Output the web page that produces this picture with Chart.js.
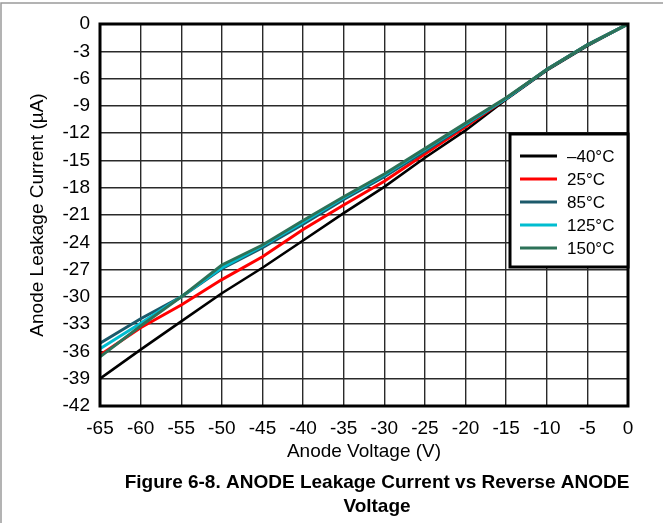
<!DOCTYPE html>
<html>
<head>
<meta charset="utf-8">
<script src="https://cdn.jsdelivr.net/npm/chart.js@4.4.1/dist/chart.umd.min.js"></script>
<style>
  html, body { margin: 0; padding: 0; background: #fff; }
  #wrap { position: relative; width: 663px; height: 523px; }
</style>
</head>
<body>
<div id="wrap"><canvas id="leak-chart" width="663" height="523"></canvas></div>
<script>
/* anode leakage vs reverse anode voltage */
const voltage = [-65, -60, -55, -50, -45, -40, -35, -30, -25, -20, -15, -10, -5, 0];
const xTicks = [-65, -60, -55, -50, -45, -40, -35, -30, -25, -20, -15, -10, -5, 0];
const yTicks = [0, -3, -6, -9, -12, -15, -18, -21, -24, -27, -30, -33, -36, -39, -42];

const tempLabels = ['–40°C', '25°C', '85°C', '125°C', '150°C'];
const leakM40 = [-39.0, -35.8, -32.7, -29.6, -26.8, -23.8, -20.8, -17.9, -14.7, -11.7, -8.3, -5.1, -2.4, 0];
const leak25  = [-36.4, -33.4, -30.9, -28.1, -25.6, -22.6, -19.9, -17.3, -14.3, -11.3, -8.2, -5.0, -2.3, 0];
const leak85  = [-35.1, -32.4, -30.0, -26.9, -24.6, -22.0, -19.3, -16.8, -14.0, -11.1, -8.2, -5.0, -2.3, 0];
const leak125 = [-35.7, -32.9, -30.0, -26.8, -24.4, -21.8, -19.1, -16.6, -13.8, -11.0, -8.2, -5.0, -2.3, 0];
const leak150 = [-36.6, -33.2, -30.0, -26.5, -24.3, -21.6, -19.0, -16.5, -13.7, -10.9, -8.1, -5.0, -2.3, 0];

const lineColors = ['#000000', '#ff0000', '#1c5a6b', '#00bdd0', '#2d7258'];
const series = [leakM40, leak25, leak85, leak125, leak150];

const FONT = '"Liberation Sans", Arial, sans-serif';

const datasets = series.map((vals, i) => ({
  label: tempLabels[i],
  data: voltage.map((v, k) => ({ x: v, y: vals[k] })),
  borderColor: lineColors[i],
  backgroundColor: lineColors[i],
  borderWidth: i === 0 ? 2.6 : 3,
  pointRadius: 0,
  tension: 0,
  order: 5 - i
}));

// frame, plot border, legend box and figure caption
const decor = {
  id: 'decor',
  beforeDraw(chart) {
    const ctx = chart.ctx;
    ctx.save();
    ctx.strokeStyle = '#9a9a9a';
    ctx.lineWidth = 1.5;
    ctx.beginPath();
    ctx.moveTo(1, 540);
    ctx.lineTo(1, 3);
    ctx.lineTo(700, 3);
    ctx.stroke();
    ctx.restore();
  },
  afterDraw(chart) {
    const ctx = chart.ctx;
    const a = chart.chartArea;
    ctx.save();
    ctx.strokeStyle = '#000';
    ctx.lineWidth = 3;
    ctx.strokeRect(a.left, a.top, a.right - a.left, a.bottom - a.top);

    // legend
    const bx = a.right - 118, by = a.top + 110, bw = 118, bh = 133;
    ctx.fillStyle = '#fff';
    ctx.fillRect(bx, by, bw, bh);
    ctx.strokeRect(bx, by, bw, bh);
    ctx.font = '17px ' + FONT;
    ctx.textBaseline = 'middle';
    ctx.textAlign = 'left';
    tempLabels.forEach((t, i) => {
      const y = by + 22 + i * 23;
      ctx.strokeStyle = lineColors[i];
      ctx.lineWidth = 3;
      ctx.beginPath();
      ctx.moveTo(bx + 10, y);
      ctx.lineTo(bx + 47, y);
      ctx.stroke();
      ctx.fillStyle = '#000';
      ctx.fillText(t, bx + 57, y + 1);
    });

    // caption
    ctx.font = 'bold 19px ' + FONT;
    ctx.textAlign = 'center';
    ctx.fillStyle = '#000';
    ctx.fillText('Figure 6-8. ANODE Leakage Current vs Reverse ANODE', 377, 483);
    ctx.fillText('Voltage', 377, 507);
    ctx.restore();
  }
};

const config = {
  type: 'line',
  data: { datasets: datasets },
  options: {
    responsive: false,
    animation: false,
    layout: { padding: { left: 0, top: 24, right: 35, bottom: 60 } },
    plugins: {
      legend: { display: false },
      tooltip: { enabled: false }
    },
    scales: {
      x: {
        type: 'linear',
        min: -65,
        max: 0,
        afterBuildTicks: s => { s.ticks = xTicks.map(v => ({ value: v })); },
        afterFit: s => { s.height = 57; },
        ticks: { color: '#000', font: { family: FONT, size: 19 }, padding: 11, maxRotation: 0, autoSkip: false },
        grid: { color: '#2a2a2a', lineWidth: 1.4, drawTicks: false },
        border: { display: false },
        title: { display: true, text: 'Anode Voltage (V)', color: '#000', font: { family: FONT, size: 19 }, padding: { top: 0, bottom: 0 } }
      },
      y: {
        type: 'linear',
        min: -42,
        max: 0,
        afterBuildTicks: s => { s.ticks = yTicks.map(v => ({ value: v })); },
        afterFit: s => { s.width = 100; },
        ticks: { color: '#000', font: { family: FONT, size: 19 }, padding: 10, autoSkip: false },
        grid: { color: '#2a2a2a', lineWidth: 1.4, drawTicks: false },
        border: { display: false },
        title: { display: true, text: 'Anode Leakage Current (µA)', color: '#000', font: { family: FONT, size: 19 }, padding: { top: 26, bottom: 0 } }
      }
    }
  },
  plugins: [decor]
};

const leakChart = new Chart(document.getElementById('leak-chart'), config);
</script>
</body>
</html>
